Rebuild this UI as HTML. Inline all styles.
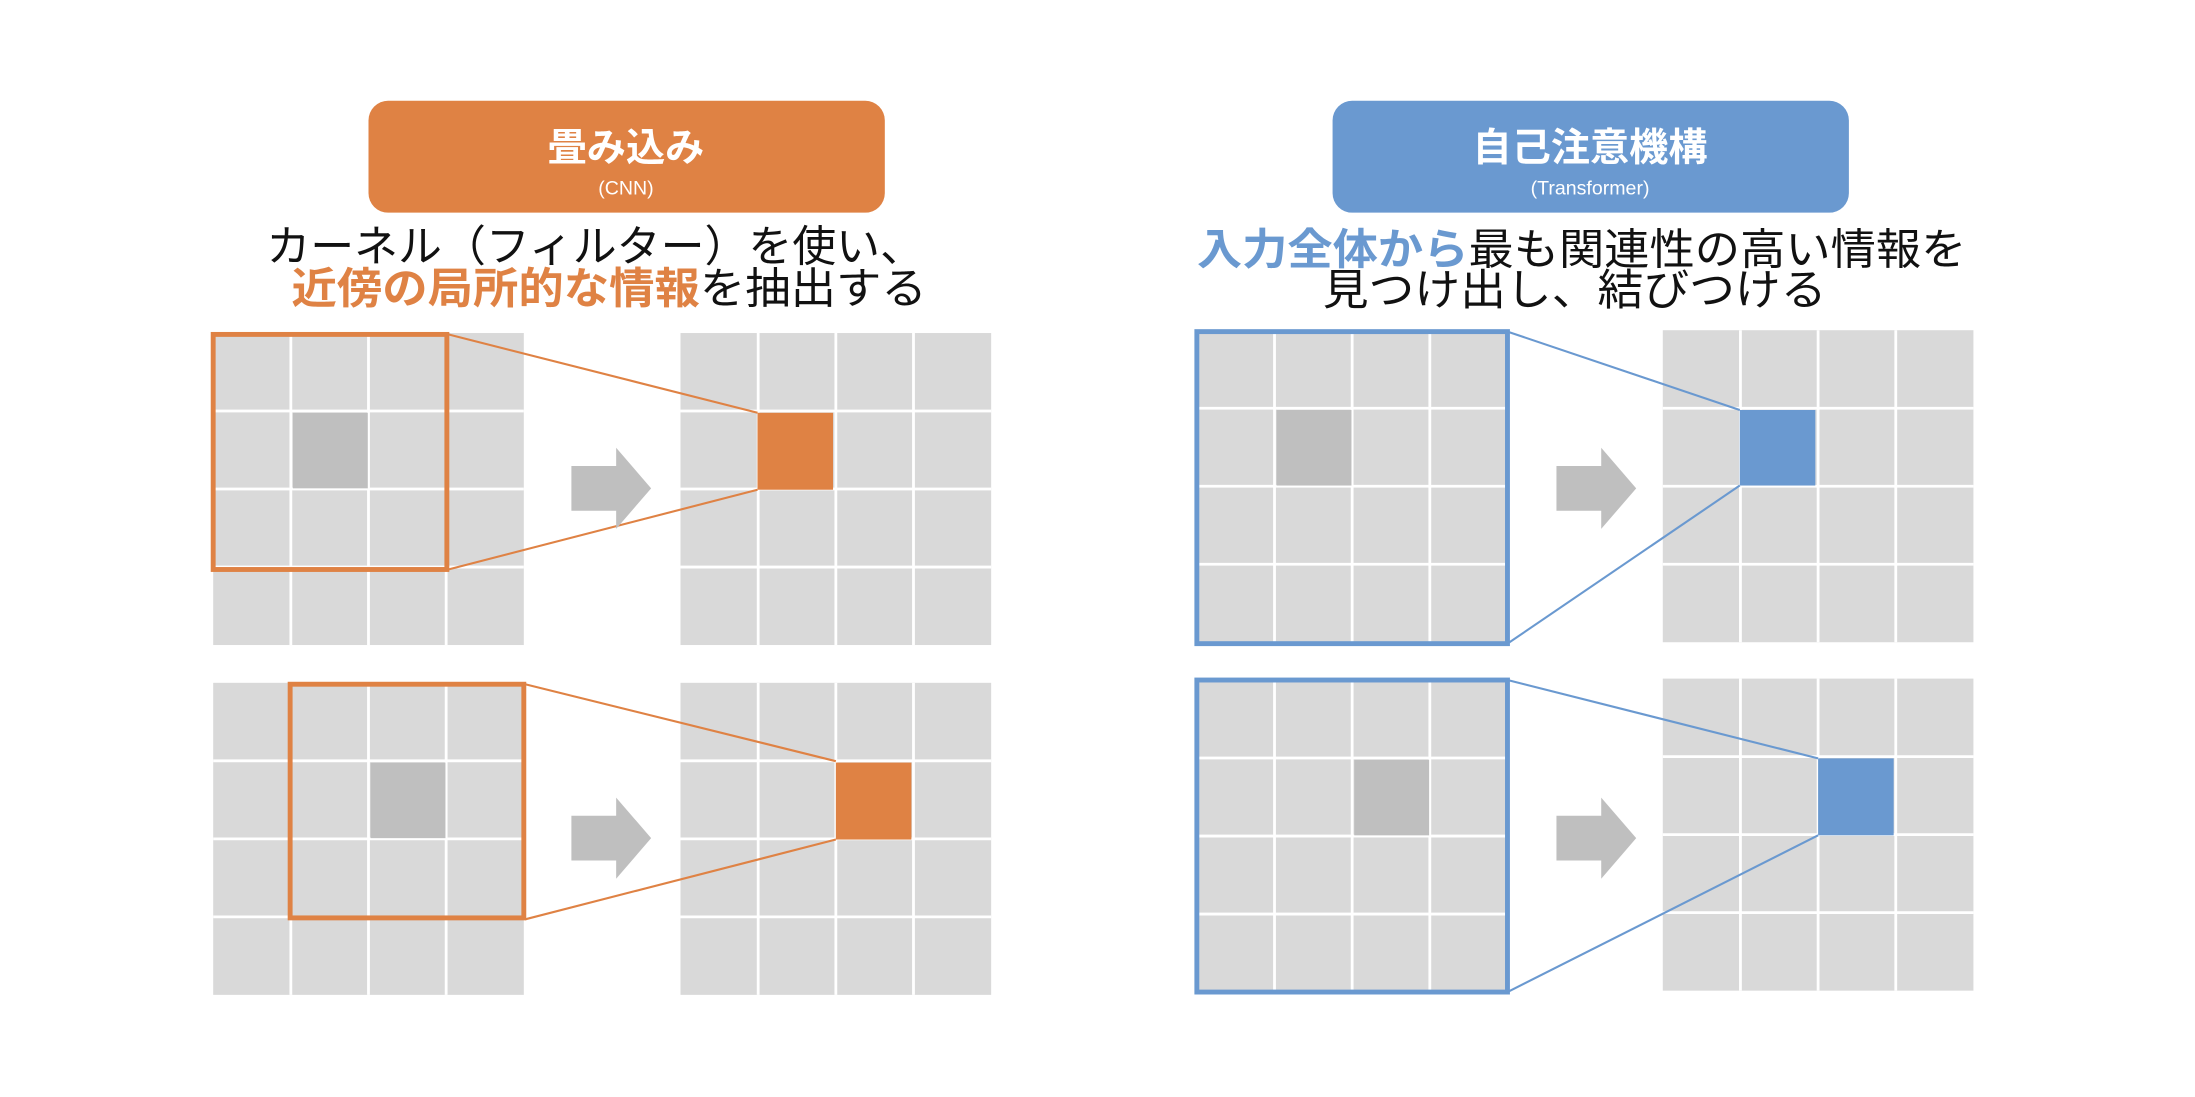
<!DOCTYPE html>
<html><head><meta charset="utf-8"><style>
html,body{margin:0;padding:0;background:#fff;}
svg{display:block;}
text{font-family:"Liberation Sans","Noto Sans CJK JP",sans-serif;}
</style></head><body>
<svg width="2195" height="1097" viewBox="0 0 1568 784" xmlns="http://www.w3.org/2000/svg">
<defs>
<g id="grid">
<rect x="0" y="0" width="222" height="223" fill="#d9d9d9"/>
<g stroke="#fff" stroke-width="2">
<line x1="55.5" y1="0" x2="55.5" y2="223"/><line x1="111" y1="0" x2="111" y2="223"/><line x1="166.5" y1="0" x2="166.5" y2="223"/>
<line x1="0" y1="55.75" x2="222" y2="55.75"/><line x1="0" y1="111.5" x2="222" y2="111.5"/><line x1="0" y1="167.25" x2="222" y2="167.25"/>
</g>
</g>
<polygon id="arr" points="0,13 32,13 32,0 57,29 32,58 32,45 0,45" fill="#bfbfbf"/>
</defs>

<!-- LEFT headers -->
<rect x="263" y="72" width="369" height="80" rx="14" fill="#df8244"/>
<text x="447" y="115" font-size="28" font-weight="bold" fill="#fff" text-anchor="middle">畳み込み</text>
<text x="447" y="139" font-size="14" fill="#fff" text-anchor="middle">(CNN)</text>
<text x="425" y="187" font-size="31" fill="#111" text-anchor="middle" textLength="470" lengthAdjust="spacingAndGlyphs">カーネル（フィルター）を使い、</text>
<text x="208" y="217" font-size="31" textLength="454" lengthAdjust="spacingAndGlyphs"><tspan fill="#df8244" font-weight="bold">近傍の局所的な情報</tspan><tspan fill="#111">を抽出する</tspan></text>

<!-- LEFT top -->
<use href="#grid" x="152" y="238"/>
<rect x="209" y="295" width="53.5" height="54" fill="#bfbfbf"/>
<use href="#grid" x="486" y="238"/>
<rect x="541" y="295" width="54" height="55" fill="#df8244"/>
<rect x="152" y="239" width="167" height="168" fill="none" stroke="#df8244" stroke-width="3.5"/>
<line x1="320" y1="239" x2="541" y2="295" stroke="#df8244" stroke-width="1.5"/>
<line x1="320" y1="407" x2="541" y2="350" stroke="#df8244" stroke-width="1.5"/>
<use href="#arr" x="408" y="320"/>

<!-- LEFT bottom -->
<use href="#grid" x="152" y="488"/>
<rect x="264.5" y="545" width="53.5" height="54" fill="#bfbfbf"/>
<use href="#grid" x="486" y="488"/>
<rect x="597" y="545" width="54" height="55" fill="#df8244"/>
<rect x="207" y="489" width="167" height="167" fill="none" stroke="#df8244" stroke-width="3.5"/>
<line x1="375" y1="489" x2="597" y2="544" stroke="#df8244" stroke-width="1.5"/>
<line x1="375" y1="657" x2="597" y2="600" stroke="#df8244" stroke-width="1.5"/>
<use href="#arr" x="408" y="570"/>

<!-- RIGHT headers -->
<rect x="952" y="72" width="369" height="80" rx="14" fill="#6a99d0"/>
<text x="1136" y="115" font-size="28" font-weight="bold" fill="#fff" text-anchor="middle">自己注意機構</text>
<text x="1136" y="139" font-size="14" fill="#fff" text-anchor="middle">(Transformer)</text>
<text x="855" y="189" font-size="31" textLength="550" lengthAdjust="spacingAndGlyphs"><tspan fill="#6a99d0" font-weight="bold">入力全体から</tspan><tspan fill="#111">最も関連性の高い情報を</tspan></text>
<text x="1125" y="218" font-size="31" fill="#111" text-anchor="middle" textLength="360" lengthAdjust="spacingAndGlyphs">見つけ出し、結びつける</text>

<!-- RIGHT top -->
<use href="#grid" x="855" y="236"/>
<rect x="912" y="293" width="53.5" height="54" fill="#bfbfbf"/>
<use href="#grid" x="1188" y="236"/>
<rect x="1243" y="293" width="54" height="54" fill="#6a99d0"/>
<rect x="855" y="237" width="222" height="223" fill="none" stroke="#6a99d0" stroke-width="3.5"/>
<line x1="1077" y1="237" x2="1243" y2="293" stroke="#6a99d0" stroke-width="1.5"/>
<line x1="1077" y1="460" x2="1243" y2="347" stroke="#6a99d0" stroke-width="1.5"/>
<use href="#arr" x="1112" y="320"/>

<!-- RIGHT bottom -->
<use href="#grid" x="855" y="486"/>
<rect x="967.5" y="543" width="53.5" height="54" fill="#bfbfbf"/>
<use href="#grid" x="1188" y="485"/>
<rect x="1299" y="542" width="54" height="55" fill="#6a99d0"/>
<rect x="855" y="486" width="222" height="223" fill="none" stroke="#6a99d0" stroke-width="3.5"/>
<line x1="1077" y1="486" x2="1299" y2="542" stroke="#6a99d0" stroke-width="1.5"/>
<line x1="1077" y1="709" x2="1299" y2="597" stroke="#6a99d0" stroke-width="1.5"/>
<use href="#arr" x="1112" y="570"/>
</svg>
</body></html>
